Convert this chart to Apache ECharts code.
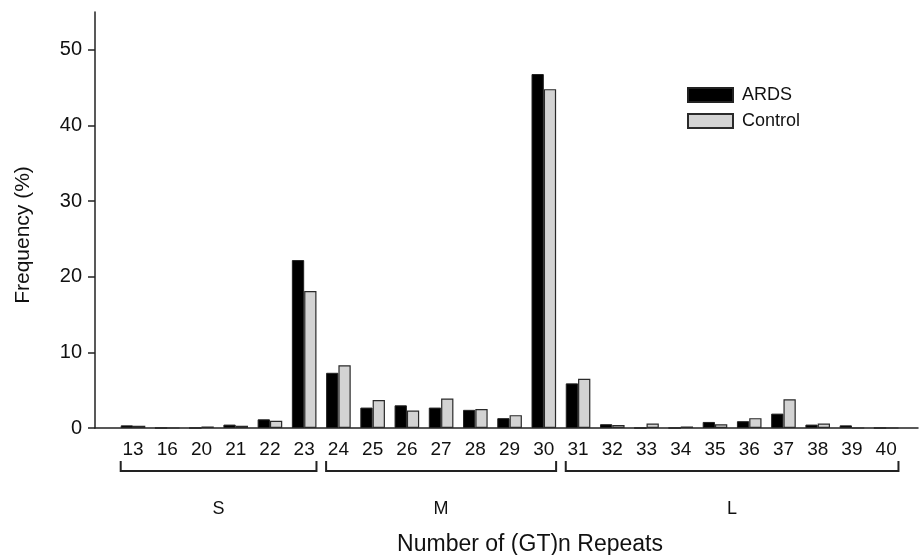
<!DOCTYPE html>
<html><head><meta charset="utf-8">
<script src="https://cdn.jsdelivr.net/npm/echarts@6/dist/echarts.min.js"></script>
<style>html,body{margin:0;padding:0;background:#fff}#c{width:923px;height:555px}</style>
</head><body><div id="c"></div>
<script>
const categories = ['13','16','20','21','22','23','24','25','26','27','28','29','30','31','32','33','34','35','36','37','38','39','40'];
const ardsValues    = [0.35, 0, 0,   0.45, 1.15, 22.2, 7.3, 2.7, 3.0, 2.7, 2.4, 1.3, 46.8, 5.9, 0.5, 0,   0,   0.8, 0.9, 1.9, 0.45, 0.35, 0];
const controlValues = [0.3,  0, 0.2, 0.3,  0.95, 18.1, 8.3, 3.7, 2.3, 3.9, 2.5, 1.7, 44.8, 6.5, 0.4, 0.6, 0.2, 0.5, 1.3, 3.8, 0.6,  0,    0];
const yTicks = [0, 10, 20, 30, 40, 50];
const groupLabels = ['S', 'M', 'L'];
const groupFrom = ['13', '24', '31'];
const groupTo = ['23', '30', '40'];
const seriesNames = ['ARDS', 'Control'];
const xTitle = 'Number of (GT)n Repeats';
const yTitle = 'Frequency (%)';

const FONT = '"Liberation Sans", Arial, Helvetica, sans-serif';
const TXT = '#111';
const BAR_W = 12.3;
const idx = categories.map((_, i) => i);
const chart = echarts.init(document.getElementById('c'), null, {renderer: 'canvas'});

chart.setOption({
  animation: false,
  backgroundColor: '#fff',
  grid: {left: 95, right: 5, top: 12, bottom: 127, outerBoundsMode: 'none'},
  xAxis: {
    type: 'value', min: -1.11, max: 22.93,
    axisLine: {onZero: false, lineStyle: {color: '#222', width: 1.5}},
    axisTick: {show: false},
    splitLine: {show: false},
    axisLabel: {customValues: idx, formatter: v => categories[v], fontSize: 19, color: TXT, fontFamily: FONT, margin: 12}
  },
  yAxis: {
    type: 'value', min: 0, max: 55,
    axisLine: {show: true, onZero: false, lineStyle: {color: '#222', width: 1.5}},
    axisTick: {show: true, length: 7, customValues: yTicks, lineStyle: {color: '#222', width: 1.5}},
    axisLabel: {customValues: yTicks, fontSize: 20, color: TXT, fontFamily: FONT, margin: 13},
    splitLine: {show: false}
  },
  legend: {
    data: seriesNames, orient: 'vertical', left: 687, top: 86, padding: 0,
    itemWidth: 45, itemHeight: 14, itemGap: 8, icon: 'rect',
    textStyle: {fontSize: 18, color: TXT, fontFamily: FONT, padding: [0, 0, 0, 4]}
  },
  series: [
    {name: seriesNames[0], type: 'bar', data: idx.map(i => [i, ardsValues[i]]), barWidth: BAR_W, barGap: '0%',
     itemStyle: {color: '#000', borderColor: '#222', borderWidth: 1}},
    {name: seriesNames[1], type: 'bar', data: idx.map(i => [i, controlValues[i]]), barWidth: BAR_W, barGap: '0%',
     itemStyle: {color: '#d3d3d3', borderColor: '#2a2a2a', borderWidth: 1.2}}
  ]
});

function drawAnnotations() {
  const y0 = chart.convertToPixel({yAxisIndex: 0}, 0);
  const els = [];
  groupLabels.forEach((lab, k) => {
    const x1 = chart.convertToPixel({xAxisIndex: 0}, categories.indexOf(groupFrom[k])) - BAR_W;
    const x2 = chart.convertToPixel({xAxisIndex: 0}, categories.indexOf(groupTo[k])) + BAR_W;
    const yb = y0 + 43;
    els.push({type: 'polyline', silent: true,
      shape: {points: [[x1, yb - 10], [x1, yb], [x2, yb], [x2, yb - 10]]},
      style: {stroke: '#222', lineWidth: 2, fill: null}});
    els.push({type: 'text', silent: true, x: (x1 + x2) / 2, y: y0 + 81,
      style: {text: lab, fontSize: 18, fontFamily: FONT, fill: TXT, align: 'center', verticalAlign: 'middle'}});
  });
  els.push({type: 'text', silent: true, x: 530, y: y0 + 117,
    style: {text: xTitle, fontSize: 23, fontFamily: FONT, fill: TXT, align: 'center', verticalAlign: 'middle'}});
  els.push({type: 'text', silent: true, x: 23, y: 235, rotation: Math.PI / 2,
    style: {text: yTitle, fontSize: 21, fontFamily: FONT, fill: TXT, align: 'center', verticalAlign: 'middle'}});
  chart.setOption({graphic: els});
}
drawAnnotations();
</script>
</body></html>
